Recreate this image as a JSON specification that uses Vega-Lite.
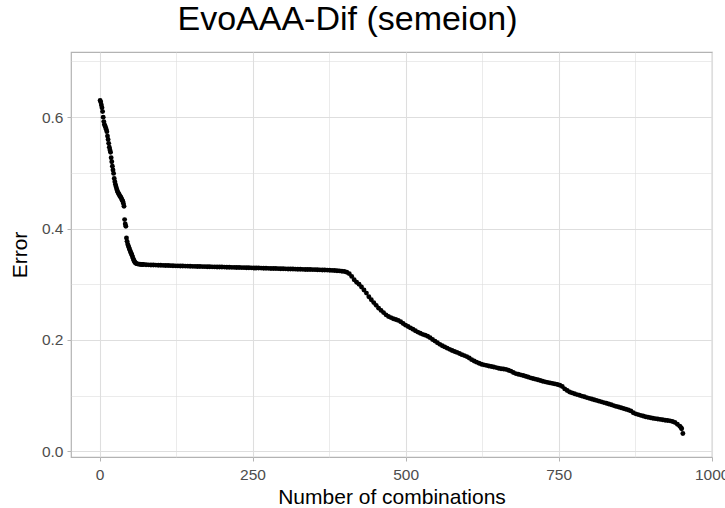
{
  "$schema": "https://vega.github.io/schema/vega-lite/v6.json",
  "width": 641,
  "height": 405,
  "autosize": {"type": "none"},
  "padding": {"left": 71, "top": 52, "right": 13, "bottom": 51},
  "background": "white",
  "title": {
    "text": "EvoAAA-Dif (semeion)",
    "font": "Liberation Sans",
    "fontSize": 34,
    "fontWeight": "normal",
    "color": "#000000",
    "anchor": "middle",
    "dx": -44,
    "baseline": "alphabetic",
    "offset": 19,
    "dy": 31
  },
  "config": {
    "view": {"stroke": "#B3B3B3", "strokeWidth": 1.2},
    "axis": {
      "labelFont": "Liberation Sans",
      "titleFont": "Liberation Sans",
      "labelFontSize": 15.5,
      "labelColor": "#4D4D4D",
      "titleFontSize": 21,
      "titleFontWeight": "normal",
      "titleColor": "#000000",
      "domain": false,
      "tickColor": "#B3B3B3",
      "tickSize": 4,
      "tickWidth": 1,
      "labelPadding": 4,
      "labelFlush": false,
      "labelOverlap": false
    }
  },
  "data": {
    "values": [
      {"n": 1, "err": 0.630}, {"n": 2, "err": 0.627}, {"n": 3, "err": 0.622}, {"n": 4, "err": 0.617},
      {"n": 5, "err": 0.610}, {"n": 6, "err": 0.600}, {"n": 7, "err": 0.592}, {"n": 8, "err": 0.587},
      {"n": 9, "err": 0.584}, {"n": 10, "err": 0.581}, {"n": 11, "err": 0.578}, {"n": 12, "err": 0.574},
      {"n": 13, "err": 0.566}, {"n": 14, "err": 0.560}, {"n": 15, "err": 0.553}, {"n": 16, "err": 0.546},
      {"n": 17, "err": 0.541}, {"n": 18, "err": 0.537}, {"n": 19, "err": 0.527}, {"n": 20, "err": 0.520},
      {"n": 21, "err": 0.512}, {"n": 22, "err": 0.505}, {"n": 23, "err": 0.499}, {"n": 24, "err": 0.490},
      {"n": 25, "err": 0.484}, {"n": 26, "err": 0.479}, {"n": 27, "err": 0.475}, {"n": 28, "err": 0.471},
      {"n": 29, "err": 0.468}, {"n": 30, "err": 0.465}, {"n": 31, "err": 0.463}, {"n": 32, "err": 0.461},
      {"n": 33, "err": 0.459}, {"n": 34, "err": 0.457}, {"n": 35, "err": 0.456}, {"n": 36, "err": 0.453},
      {"n": 37, "err": 0.451}, {"n": 38, "err": 0.449}, {"n": 39, "err": 0.445}, {"n": 40, "err": 0.440},
      {"n": 41, "err": 0.416}, {"n": 42, "err": 0.408}, {"n": 43, "err": 0.404}, {"n": 44, "err": 0.383},
      {"n": 45, "err": 0.377}, {"n": 46, "err": 0.372}, {"n": 47, "err": 0.369}, {"n": 48, "err": 0.366},
      {"n": 49, "err": 0.363}, {"n": 50, "err": 0.360}, {"n": 51, "err": 0.357}, {"n": 52, "err": 0.355},
      {"n": 53, "err": 0.352}, {"n": 54, "err": 0.349}, {"n": 55, "err": 0.346}, {"n": 56, "err": 0.343},
      {"n": 57, "err": 0.341}, {"n": 58, "err": 0.339}, {"n": 59, "err": 0.338}, {"n": 60, "err": 0.337},
      {"n": 62, "err": 0.3365}, {"n": 64, "err": 0.336}, {"n": 66, "err": 0.3358}, {"n": 68, "err": 0.3355},
      {"n": 70, "err": 0.3353},
      {"n": 72, "err": 0.3353}, {"n": 76, "err": 0.3350}, {"n": 80, "err": 0.3348}, {"n": 84, "err": 0.3346},
      {"n": 88, "err": 0.3344}, {"n": 92, "err": 0.3343}, {"n": 96, "err": 0.3341}, {"n": 100, "err": 0.3340},
      {"n": 104, "err": 0.3338}, {"n": 108, "err": 0.3336}, {"n": 112, "err": 0.3335}, {"n": 116, "err": 0.3333},
      {"n": 120, "err": 0.3332}, {"n": 124, "err": 0.3330}, {"n": 128, "err": 0.3329}, {"n": 132, "err": 0.3328},
      {"n": 136, "err": 0.3326}, {"n": 140, "err": 0.3325}, {"n": 144, "err": 0.3324}, {"n": 148, "err": 0.3323},
      {"n": 152, "err": 0.3321}, {"n": 156, "err": 0.3320}, {"n": 160, "err": 0.3319}, {"n": 164, "err": 0.3318},
      {"n": 168, "err": 0.3316}, {"n": 172, "err": 0.3315}, {"n": 176, "err": 0.3314}, {"n": 180, "err": 0.3313},
      {"n": 184, "err": 0.3312}, {"n": 188, "err": 0.3311}, {"n": 192, "err": 0.3310}, {"n": 196, "err": 0.3309},
      {"n": 200, "err": 0.3308}, {"n": 204, "err": 0.3307}, {"n": 208, "err": 0.3305}, {"n": 212, "err": 0.3304},
      {"n": 216, "err": 0.3303}, {"n": 220, "err": 0.3302}, {"n": 224, "err": 0.3301}, {"n": 228, "err": 0.3300},
      {"n": 232, "err": 0.3298}, {"n": 236, "err": 0.3297}, {"n": 240, "err": 0.3296}, {"n": 244, "err": 0.3295},
      {"n": 248, "err": 0.3294}, {"n": 252, "err": 0.3292}, {"n": 256, "err": 0.3291}, {"n": 260, "err": 0.3290},
      {"n": 264, "err": 0.3289}, {"n": 268, "err": 0.3287}, {"n": 272, "err": 0.3286}, {"n": 276, "err": 0.3285},
      {"n": 280, "err": 0.3283}, {"n": 284, "err": 0.3282}, {"n": 288, "err": 0.3281}, {"n": 292, "err": 0.3279},
      {"n": 296, "err": 0.3278}, {"n": 300, "err": 0.3277}, {"n": 304, "err": 0.3276}, {"n": 308, "err": 0.3274},
      {"n": 312, "err": 0.3273}, {"n": 316, "err": 0.3272}, {"n": 320, "err": 0.3270}, {"n": 324, "err": 0.3269},
      {"n": 328, "err": 0.3268}, {"n": 332, "err": 0.3267}, {"n": 336, "err": 0.3265}, {"n": 340, "err": 0.3264},
      {"n": 344, "err": 0.3263}, {"n": 348, "err": 0.3262}, {"n": 352, "err": 0.3261}, {"n": 356, "err": 0.3259},
      {"n": 360, "err": 0.3258}, {"n": 364, "err": 0.3256}, {"n": 368, "err": 0.3255}, {"n": 372, "err": 0.3253},
      {"n": 376, "err": 0.3251}, {"n": 380, "err": 0.3248}, {"n": 384, "err": 0.3245}, {"n": 388, "err": 0.3242},
      {"n": 392, "err": 0.3239}, {"n": 396, "err": 0.3234}, {"n": 400, "err": 0.3228}, {"n": 404, "err": 0.3215},
      {"n": 408, "err": 0.3190}, {"n": 412, "err": 0.3140}, {"n": 416, "err": 0.3080}, {"n": 420, "err": 0.3035},
      {"n": 424, "err": 0.3000}, {"n": 428, "err": 0.2950}, {"n": 432, "err": 0.2895}, {"n": 436, "err": 0.2840},
      {"n": 440, "err": 0.2775}, {"n": 444, "err": 0.2720}, {"n": 448, "err": 0.2670}, {"n": 452, "err": 0.2620},
      {"n": 456, "err": 0.2570}, {"n": 460, "err": 0.2530}, {"n": 464, "err": 0.2490}, {"n": 468, "err": 0.2450},
      {"n": 472, "err": 0.2420}, {"n": 476, "err": 0.2400}, {"n": 480, "err": 0.2380}, {"n": 484, "err": 0.2365},
      {"n": 488, "err": 0.2350}, {"n": 492, "err": 0.2325}, {"n": 496, "err": 0.2295}, {"n": 500, "err": 0.2265},
      {"n": 504, "err": 0.2240}, {"n": 508, "err": 0.2215}, {"n": 512, "err": 0.2190}, {"n": 516, "err": 0.2163},
      {"n": 520, "err": 0.2140}, {"n": 524, "err": 0.2120}, {"n": 528, "err": 0.2100}, {"n": 532, "err": 0.2085},
      {"n": 536, "err": 0.2065}, {"n": 540, "err": 0.2040}, {"n": 544, "err": 0.2008}, {"n": 548, "err": 0.1978},
      {"n": 552, "err": 0.1950}, {"n": 556, "err": 0.1920}, {"n": 560, "err": 0.1896}, {"n": 564, "err": 0.1874},
      {"n": 568, "err": 0.1852}, {"n": 572, "err": 0.1830}, {"n": 576, "err": 0.1810}, {"n": 580, "err": 0.1792},
      {"n": 584, "err": 0.1775}, {"n": 588, "err": 0.1755}, {"n": 592, "err": 0.1735}, {"n": 596, "err": 0.1718},
      {"n": 600, "err": 0.1700}, {"n": 604, "err": 0.1675}, {"n": 608, "err": 0.1645}, {"n": 612, "err": 0.1620},
      {"n": 616, "err": 0.1600}, {"n": 620, "err": 0.1580}, {"n": 624, "err": 0.1563}, {"n": 628, "err": 0.1552},
      {"n": 632, "err": 0.1542}, {"n": 636, "err": 0.1532}, {"n": 640, "err": 0.1522}, {"n": 644, "err": 0.1512},
      {"n": 648, "err": 0.1502}, {"n": 652, "err": 0.1492}, {"n": 656, "err": 0.1483}, {"n": 660, "err": 0.1477},
      {"n": 664, "err": 0.1470}, {"n": 668, "err": 0.1455}, {"n": 672, "err": 0.1440}, {"n": 676, "err": 0.1415},
      {"n": 680, "err": 0.1395}, {"n": 684, "err": 0.1383}, {"n": 688, "err": 0.1372}, {"n": 692, "err": 0.1360},
      {"n": 696, "err": 0.1346}, {"n": 700, "err": 0.1333}, {"n": 704, "err": 0.1318}, {"n": 708, "err": 0.1306},
      {"n": 712, "err": 0.1295}, {"n": 716, "err": 0.1285}, {"n": 720, "err": 0.1272}, {"n": 724, "err": 0.1257},
      {"n": 728, "err": 0.1247}, {"n": 732, "err": 0.1237}, {"n": 736, "err": 0.1228}, {"n": 740, "err": 0.1219},
      {"n": 744, "err": 0.1210}, {"n": 748, "err": 0.1200}, {"n": 752, "err": 0.1185}, {"n": 756, "err": 0.1162},
      {"n": 760, "err": 0.1120}, {"n": 764, "err": 0.1090}, {"n": 768, "err": 0.1065}, {"n": 772, "err": 0.1048},
      {"n": 776, "err": 0.1032}, {"n": 780, "err": 0.1018}, {"n": 784, "err": 0.1005}, {"n": 788, "err": 0.0991},
      {"n": 792, "err": 0.0978}, {"n": 796, "err": 0.0964}, {"n": 800, "err": 0.0950}, {"n": 804, "err": 0.0938},
      {"n": 808, "err": 0.0926}, {"n": 812, "err": 0.0913}, {"n": 816, "err": 0.0900}, {"n": 820, "err": 0.0887},
      {"n": 824, "err": 0.0874}, {"n": 828, "err": 0.0861}, {"n": 832, "err": 0.0848}, {"n": 836, "err": 0.0835},
      {"n": 840, "err": 0.0820}, {"n": 844, "err": 0.0806}, {"n": 848, "err": 0.0794}, {"n": 852, "err": 0.0781},
      {"n": 856, "err": 0.0767}, {"n": 860, "err": 0.0754}, {"n": 864, "err": 0.0742}, {"n": 868, "err": 0.0725},
      {"n": 872, "err": 0.0692}, {"n": 876, "err": 0.0672}, {"n": 880, "err": 0.0658}, {"n": 884, "err": 0.0645},
      {"n": 888, "err": 0.0632}, {"n": 892, "err": 0.0620}, {"n": 896, "err": 0.0610}, {"n": 900, "err": 0.0601},
      {"n": 904, "err": 0.0593}, {"n": 908, "err": 0.0586}, {"n": 912, "err": 0.0579}, {"n": 916, "err": 0.0572},
      {"n": 920, "err": 0.0565}, {"n": 924, "err": 0.0558}, {"n": 928, "err": 0.0552}, {"n": 932, "err": 0.0546},
      {"n": 936, "err": 0.0535}, {"n": 940, "err": 0.0518}, {"n": 944, "err": 0.0485}, {"n": 948, "err": 0.0450},
      {"n": 950, "err": 0.0425}, {"n": 951, "err": 0.0405}, {"n": 953, "err": 0.0318}
    ]
  },
  "mark": {"type": "point", "shape": "circle", "filled": true, "color": "#000000", "opacity": 1, "size": 24, "strokeWidth": 0},
  "encoding": {
    "x": {
      "field": "n",
      "type": "quantitative",
      "title": "Number of combinations",
      "scale": {"domain": [-46.6, 1000.6], "nice": false, "zero": false},
      "axis": {
        "values": [0, 125, 250, 375, 500, 625, 750, 875, 1000],
        "labelExpr": "datum.value % 250 === 0 ? format(datum.value, 'd') : ''",
        "tickOpacity": {"condition": {"test": "datum.value % 250 !== 0", "value": 0}, "value": 1},
        "gridColor": "#DEDEDE",
        "gridWidth": {"condition": {"test": "datum.value % 250 !== 0", "value": 0.6}, "value": 1.1},
        "labelPadding": 6,
        "titlePadding": 4
      }
    },
    "y": {
      "field": "err",
      "type": "quantitative",
      "title": "Error",
      "scale": {"domain": [-0.0103, 0.717], "nice": false, "zero": false},
      "axis": {
        "values": [0, 0.1, 0.2, 0.3, 0.4, 0.5, 0.6, 0.7],
        "labelExpr": "round(datum.value * 10) % 2 === 0 ? format(datum.value, '.1f') : ''",
        "tickOpacity": {"condition": {"test": "round(datum.value * 10) % 2 !== 0", "value": 0}, "value": 1},
        "gridColor": "#DEDEDE",
        "gridWidth": {"condition": {"test": "round(datum.value * 10) % 2 !== 0", "value": 0.6}, "value": 1.1},
        "titlePadding": 11
      }
    }
  }
}
